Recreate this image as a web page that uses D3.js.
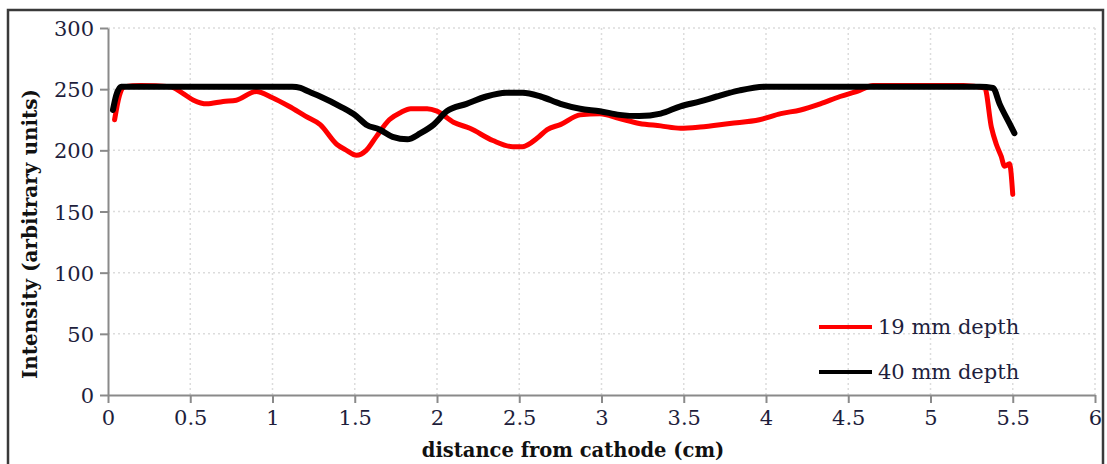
<!DOCTYPE html>
<html>
<head>
<meta charset="utf-8">
<script src="https://cdn.jsdelivr.net/npm/d3@7"></script>
<style>
  body { margin: 0; background: #fff; }
  svg { display: block; }
  .tick text { font-family: "DejaVu Serif", serif; fill: #1e1e3c; }
</style>
</head>
<body>
<div id="chart"></div>
<script>
// 19 mm depth (red)
const redX = [0.04, 0.07, 0.10, 0.20, 0.38, 0.45, 0.52, 0.60, 0.70, 0.78, 0.90, 1.00, 1.10, 1.20, 1.29, 1.39, 1.45, 1.51, 1.57, 1.63, 1.71, 1.78, 1.84, 1.94, 2.00, 2.10, 2.20, 2.34, 2.46, 2.52, 2.61, 2.67, 2.75, 2.87, 2.99, 3.11, 3.23, 3.36, 3.48, 3.60, 3.78, 3.96, 4.09, 4.21, 4.33, 4.45, 4.57, 4.65, 4.80, 5.00, 5.20, 5.33, 5.37, 5.40, 5.43, 5.45, 5.48, 5.50]
const redY = [225, 245, 252, 253, 252, 247, 241, 238, 240, 241, 248, 243, 236, 228, 221, 205, 200, 196, 200, 211, 225, 231, 234, 234, 232, 223, 218, 208, 203, 203, 210, 217, 221, 229, 230, 226, 222, 220, 218, 219, 222, 225, 230, 233, 238, 244, 249, 253, 253, 253, 253, 251, 219, 205, 195, 187, 189, 164]
// 40 mm depth (black)
const blackX = [0.03, 0.05, 0.08, 0.20, 0.50, 0.80, 1.00, 1.12, 1.17, 1.22, 1.29, 1.41, 1.51, 1.57, 1.65, 1.73, 1.82, 1.90, 1.98, 2.06, 2.18, 2.30, 2.42, 2.52, 2.63, 2.75, 2.87, 2.99, 3.11, 3.23, 3.36, 3.48, 3.60, 3.70, 3.84, 4.00, 4.30, 4.70, 5.00, 5.30, 5.38, 5.42, 5.48, 5.51]
const blackY = [233, 245, 252, 252, 252, 252, 252, 252, 251, 248, 244, 236, 228, 221, 217, 211, 209, 214, 221, 232, 238, 244, 247, 247, 244, 238, 234, 232, 229, 228, 230, 236, 240, 244, 249, 252, 252, 252, 252, 252, 251, 238, 222, 214]

const xTicks = [0, 0.5, 1, 1.5, 2, 2.5, 3, 3.5, 4, 4.5, 5, 5.5, 6]
const yTicks = [0, 50, 100, 150, 200, 250, 300]
const seriesNames = ['19 mm depth', '40 mm depth']

let width = 1107
let height = 464

let x = d3.scaleLinear().domain([0, 6]).range([108, 1095])
let y = d3.scaleLinear().domain([0, 300]).range([395, 28])

let svg = d3.select('#chart')
  .append('svg')
  .attr('width', width)
  .attr('height', height)

// outer frame
svg.append('rect')
  .attr('x', 8).attr('y', 10)
  .attr('width', 1095).attr('height', 470)
  .style('fill', 'none')
  .style('stroke', '#3a3a3a')
  .style('stroke-width', 2.5)

// grid
svg.append('g').selectAll('line')
  .data(xTicks.slice(1))
  .enter().append('line')
  .attr('x1', d => x(d)).attr('x2', d => x(d))
  .attr('y1', y(0)).attr('y2', y(300))
  .style('stroke', '#dcdcdc').style('stroke-width', 1.5).style('stroke-dasharray', '2,3')
svg.append('g').selectAll('line')
  .data(yTicks.slice(1))
  .enter().append('line')
  .attr('x1', x(0)).attr('x2', x(6))
  .attr('y1', d => y(d)).attr('y2', d => y(d))
  .style('stroke', '#dcdcdc').style('stroke-width', 1.5).style('stroke-dasharray', '2,3')

// axes
let xAxis = svg.append('g')
  .attr('transform', 'translate(0,' + y(0) + ')')
  .call(d3.axisBottom(x).tickValues(xTicks).tickFormat(d => String(d)).tickSize(8).tickPadding(4).tickSizeOuter(0))
let yAxis = svg.append('g')
  .attr('transform', 'translate(' + x(0) + ',0)')
  .call(d3.axisLeft(y).tickValues(yTicks).tickFormat(d => String(d)).tickSize(8).tickPadding(6).tickSizeOuter(0))
;[xAxis, yAxis].forEach(function (a) {
  a.select('.domain').style('stroke', '#8a8a8a').style('stroke-width', 2)
  a.selectAll('.tick line').style('stroke', '#8a8a8a').style('stroke-width', 2)
  a.selectAll('.tick text').style('font-size', '21px')
})
xAxis.selectAll('.tick text').attr('dy', '0.85em')
yAxis.selectAll('.tick text').attr('dy', '0.36em')

// axis titles
svg.append('text')
  .attr('x', 573).attr('y', 457)
  .attr('text-anchor', 'middle')
  .style('font-family', '"DejaVu Serif", serif')
  .style('font-weight', 'bold')
  .style('font-size', '19.5px')
  .style('fill', '#111')
  .text('distance from cathode (cm)')
svg.append('text')
  .attr('transform', 'translate(37,234) rotate(-90)')
  .attr('text-anchor', 'middle')
  .style('font-family', '"DejaVu Serif", serif')
  .style('font-weight', 'bold')
  .style('font-size', '20px')
  .style('fill', '#111')
  .text('Intensity (arbitrary units)')

// lines
let line = d3.line()
  .x(d => x(d[0]))
  .y(d => y(d[1]))
  .curve(d3.curveMonotoneX)
let redData = redX.map((v, i) => [v, redY[i]])
let blackData = blackX.map((v, i) => [v, blackY[i]])

svg.append('path')
  .attr('d', line(redData))
  .style('fill', 'none').style('stroke', '#ff0000').style('stroke-width', 5)
  .style('stroke-linejoin', 'round').style('stroke-linecap', 'round')
svg.append('path')
  .attr('d', line(blackData))
  .style('fill', 'none').style('stroke', '#000').style('stroke-width', 6)
  .style('stroke-linejoin', 'round').style('stroke-linecap', 'round')

// legend
let legend = svg.append('g').selectAll('g')
  .data(seriesNames)
  .enter().append('g')
  .attr('transform', (d, i) => 'translate(819,' + (327 + i * 45) + ')')
legend.append('line')
  .attr('x1', 0).attr('x2', 53)
  .style('stroke', (d, i) => i === 0 ? '#ff0000' : '#000')
  .style('stroke-width', 4)
legend.append('text')
  .attr('x', 59).attr('y', 0).attr('dy', '0.35em')
  .style('font-family', '"DejaVu Serif", serif')
  .style('font-size', '21px')
  .style('fill', '#1e1e3c')
  .text(d => d)
</script>
</body>
</html>
